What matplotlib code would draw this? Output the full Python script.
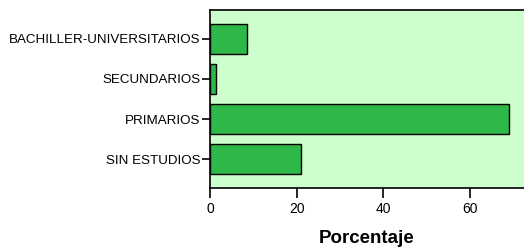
import matplotlib
matplotlib.use("Agg")
import matplotlib.pyplot as plt

categories = ["SIN ESTUDIOS", "PRIMARIOS", "SECUNDARIOS", "BACHILLER-UNIVERSITARIOS"]
values = [21.1, 69.05, 1.4, 8.45]
xticks = [0, 20, 40, 60]

plt.rcParams['font.family'] = ['Liberation Sans', 'DejaVu Sans']

fig = plt.figure(figsize=(5.24, 2.52), dpi=100)
ax = fig.add_axes([210/524, 1-188/252, 1-210/524, 178/252])
ax.set_facecolor('#CCFFCC')
ax.barh(range(len(categories)), values, height=0.75, color='#2EB84A',
        edgecolor='black', linewidth=1.0)
ax.set_yticks(range(len(categories)))
ax.set_yticklabels(categories, fontsize=9.6)
ax.set_xticks(xticks)
ax.set_xticklabels([str(t) for t in xticks], fontsize=10)
ax.set_xlim(0, 72.5)
ax.set_ylim(-0.72, 3.72)
ax.spines['right'].set_visible(False)
for s in ['left', 'bottom', 'top']:
    ax.spines[s].set_linewidth(1.2)
ax.tick_params(axis='x', length=7, width=1.2, pad=3)
ax.tick_params(axis='y', length=6, width=1.2, pad=1)
ax.set_xlabel('Porcentaje', fontsize=13.5, fontweight='bold', labelpad=10)
fig.savefig('out.png', dpi=100)
